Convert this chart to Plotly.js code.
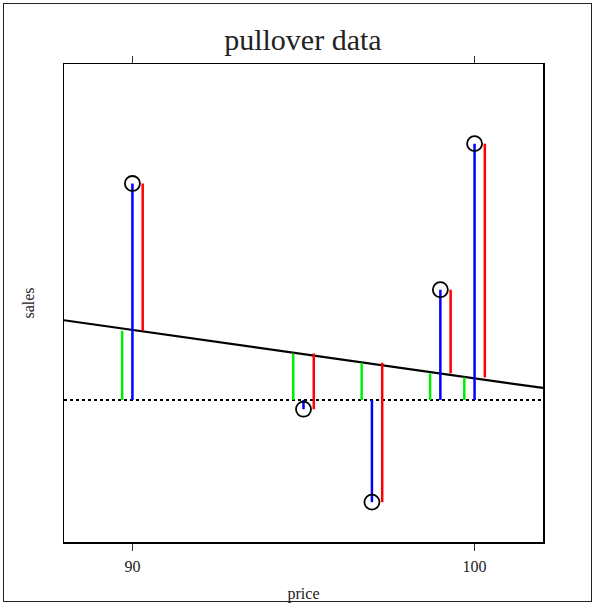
<!DOCTYPE html>
<html>
<head>
<meta charset="utf-8">
<script src="https://cdn.plot.ly/plotly-3.0.1.min.js"></script>
<style>
  body { margin: 0; padding: 0; background: #fff; }
  #wrap { position: relative; width: 594px; height: 603px; }
  #chart { position: absolute; left: 0; top: 0; width: 594px; height: 603px; }
  #frame { position: absolute; left: 3px; top: 3px; width: 587px; height: 597px; border: 1px solid #222; pointer-events: none; }
</style>
</head>
<body>
<div id="wrap">
  <div id="chart"></div>
  <div id="frame"></div>
</div>
<script>
// Data
const price   = [90, 95, 97, 99, 100];
const sales   = [189, 172, 165, 181, 192];
const fitted  = [177.9, 176.2, 175.5, 174.7, 174.4];   // regression line value at each price
const meanSales = 172.7;
const lineX   = [88, 102];
const lineY   = [178.7, 173.6];                          // regression line at the plot edges
const xRange  = [88, 102];
const yRange  = [162, 198];
const xTicks  = [90, 100];
const xTickText = ['90', '100'];
const offset  = 0.3;

function segs(xs, dx, y0s, y1s) {
  const x = [], y = [];
  xs.forEach((v, i) => {
    x.push(v + dx, v + dx, null);
    y.push(y0s[i], y1s[i], null);
  });
  return {x, y};
}
const meanArr = price.map(() => meanSales);
const g = segs(price, -offset, meanArr, fitted);
const b = segs(price, 0, meanArr, sales);
const r = segs(price, offset, fitted, sales);

const traces = [
  {x: xRange, y: [meanSales, meanSales], mode: 'lines', line: {color: '#000', width: 2, dash: 'dot'}},
  {x: lineX, y: lineY, mode: 'lines', line: {color: '#000', width: 2.2}},
  {x: g.x, y: g.y, mode: 'lines', line: {color: '#00ee00', width: 2.5}, connectgaps: false},
  {x: b.x, y: b.y, mode: 'lines', line: {color: '#0000ff', width: 2.5}, connectgaps: false},
  {x: r.x, y: r.y, mode: 'lines', line: {color: '#ff0000', width: 2.5}, connectgaps: false},
  {x: price, y: sales, mode: 'markers', marker: {symbol: 'circle-open', size: 15, color: '#000', line: {width: 1.8, color: '#000'}}},
  // invisible trace to carry the top (mirrored) axis ticks
  {x: xRange, y: [meanSales, meanSales], xaxis: 'x2', mode: 'lines', line: {width: 0, color: 'rgba(0,0,0,0)'}}
];

const fontFam = '"Liberation Serif", "Times New Roman", serif';
const layout = {
  width: 594, height: 603,
  margin: {l: 64, r: 51, t: 64, b: 61},
  paper_bgcolor: '#fff', plot_bgcolor: '#fff',
  showlegend: false,
  font: {family: fontFam, color: '#222', size: 15},
  title: {text: 'pullover data', font: {family: fontFam, size: 30, color: '#222'}, x: 0.51, xanchor: 'center', y: 0.935, yanchor: 'middle', yref: 'container'},
  xaxis: {
    range: xRange, tickvals: xTicks, ticktext: xTickText,
    showgrid: false, zeroline: false,
    showline: true, linecolor: '#000', linewidth: 1.5, mirror: true,
    ticks: 'outside', ticklen: 7, tickwidth: 1.2, tickcolor: '#333',
    ticklabelstandoff: 2,
    tickfont: {family: fontFam, size: 16, color: '#222'},
    title: {text: 'price', font: {family: fontFam, size: 16, color: '#222'}, standoff: 14}
  },
  xaxis2: {
    range: xRange, tickvals: xTicks, overlaying: 'x', side: 'top', anchor: 'y',
    showticklabels: false, showgrid: false, zeroline: false, showline: false,
    ticks: 'outside', ticklen: 7, tickwidth: 1.2, tickcolor: '#333'
  },
  yaxis: {
    range: yRange, showticklabels: false, ticks: '',
    showgrid: false, zeroline: false,
    showline: true, linecolor: '#000', linewidth: 1.5, mirror: true,
    title: {text: 'sales', font: {family: fontFam, size: 16, color: '#222'}, standoff: 24}
  }
};
Plotly.newPlot('chart', traces, layout, {displayModeBar: false, staticPlot: true});
</script>
</body>
</html>
